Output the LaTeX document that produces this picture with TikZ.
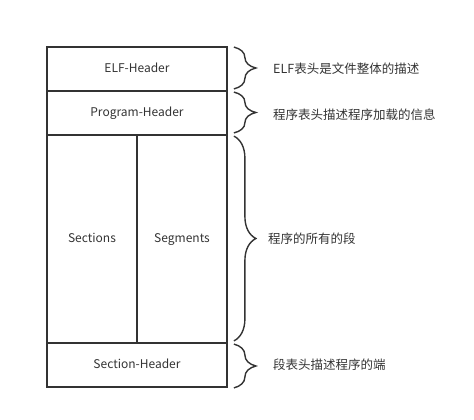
\documentclass[tikz,border=0pt]{standalone}
\usepackage{fontspec}
\setmainfont{Noto Sans CJK SC}
\usetikzlibrary{decorations.pathreplacing}

\definecolor{ink}{HTML}{333333}

\begin{document}
\begin{tikzpicture}[x=1pt, y=-1pt,
  part/.style = {draw=ink, line width=1.8pt, text=ink, font=\fontsize{12}{14}\selectfont, inner sep=0pt, text height=9pt, text depth=2.5pt},
  note/.style = {anchor=west, text=ink, font=\fontsize{12.5}{14}\selectfont, inner sep=0pt},
  curly/.style = {draw=ink, line width=1.4pt, decorate, decoration={brace, amplitude=22pt}}]
  \useasboundingbox (0,0) rectangle (474,420);
  % the parts of the file
  \node[part, minimum width=180pt, minimum height=44pt] (elf) at (137,69) {ELF-Header};
  \node[part, minimum width=180pt, minimum height=44pt] (prog) at (137,113) {Program-Header};
  \node[part, minimum width=90pt, minimum height=208pt] (sec) at (92,239) {Sections};
  \node[part, minimum width=90pt, minimum height=208pt] (seg) at (182,239) {Segments};
  \node[part, minimum width=180pt, minimum height=44pt] (shdr) at (137,365) {Section-Header};
  % what each part is
  \node[note] (n1) at (273,69) {ELF表头是文件整体的描述};
  \node[note] (n2) at (273,115) {程序表头描述程序加载的信息};
  \node[note] (n3) at (268,239) {程序的所有的段};
  \node[note] (n4) at (273,365) {段表头描述程序的端};
  \draw[curly] ([xshift=6pt, yshift=-1pt]elf.north east) -- ([xshift=6pt, yshift=3pt]elf.south east);
  \draw[curly] ([xshift=6pt, yshift=-2pt]prog.north east) -- ([xshift=6pt, yshift=3pt]prog.south east);
  \draw[curly] ([xshift=6pt, yshift=-2pt]seg.north east) -- ([xshift=6pt, yshift=3pt]seg.south east);
  \draw[curly] ([xshift=6pt, yshift=-2pt]shdr.north east) -- ([xshift=6pt]shdr.south east);
\end{tikzpicture}
\end{document}
